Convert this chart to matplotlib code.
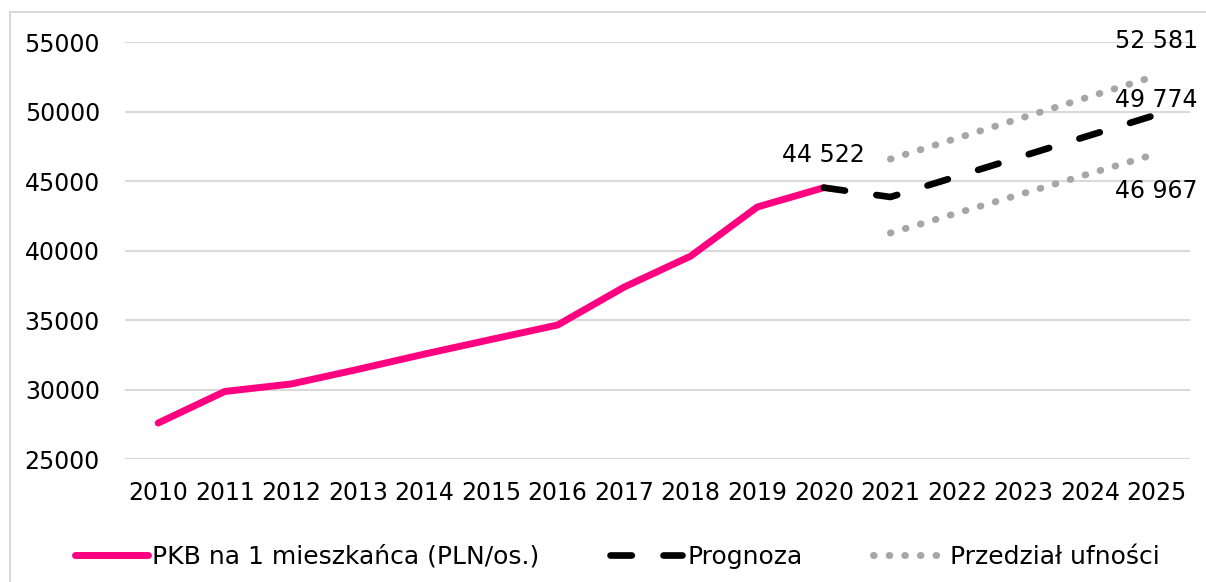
import matplotlib
matplotlib.use("Agg")
import matplotlib.pyplot as plt
from matplotlib.patches import Rectangle

plt.rcParams['font.family'] = ['DejaVu Sans']

# dane historyczne
lata = [2010, 2011, 2012, 2013, 2014, 2015, 2016, 2017, 2018, 2019, 2020]
pkb = [27590, 29860, 30400, 31450, 32550, 33600, 34640, 37370, 39600, 43130, 44522]

# prognoza i przedzial ufnosci
lata_prog = [2020, 2021, 2022, 2023, 2024, 2025]
prognoza = [44522, 43850, 45330, 46810, 48290, 49774]
lata_przedz = [2021, 2022, 2023, 2024, 2025]
gorna = [46580, 48080, 49580, 51080, 52581]
dolna = [41260, 42690, 44110, 45540, 46967]

yticks = [25000, 30000, 35000, 40000, 45000, 50000, 55000]

fs = 17
fig = plt.figure(figsize=(12.06, 5.82), dpi=100)
ax = fig.add_axes([0.1036, 0.2113, 0.8831, 0.7165])

# ramka wokol wykresu
fig.patches.append(Rectangle((10 / 1206, -0.1), 1.2, 1.1 - 12 / 582, transform=fig.transFigure,
                             fill=False, edgecolor='#d9d9d9', linewidth=1.5))

ax.plot(lata, pkb, color='#ff0080', lw=5, solid_capstyle='round',
        solid_joinstyle='round', label='PKB na 1 mieszkańca (PLN/os.)', zorder=3)
ax.plot(lata_prog, prognoza, color='black', lw=4.8, linestyle=(0, (3.2, 4.75)),
        dash_capstyle='round', label='Prognoza', zorder=3)
ax.plot(lata_przedz, gorna, color='#a6a6a6', lw=5, linestyle=(0, (0.1, 2.15)),
        dash_capstyle='round', label='Przedział ufności', zorder=2)
ax.plot(lata_przedz, dolna, color='#a6a6a6', lw=5, linestyle=(0, (0.1, 2.15)),
        dash_capstyle='round', zorder=2)

def fmt(v):
    return f"{v:,}".replace(",", " ")

ax.annotate(fmt(pkb[-1]), (lata[-1], pkb[-1]), xytext=(0, 33), textcoords='offset pixels',
            ha='center', va='center', fontsize=fs)
ax.annotate(fmt(gorna[-1]), (lata_przedz[-1], gorna[-1]), xytext=(0, 35), textcoords='offset pixels',
            ha='center', va='center', fontsize=fs)
ax.annotate(fmt(prognoza[-1]), (lata_prog[-1], prognoza[-1]), xytext=(0, 15), textcoords='offset pixels',
            ha='center', va='center', fontsize=fs)
ax.annotate(fmt(dolna[-1]), (lata_przedz[-1], dolna[-1]), xytext=(0, -37), textcoords='offset pixels',
            ha='center', va='center', fontsize=fs)

ax.set_xlim(2009.5, 2025.5)
ax.set_ylim(25000, 55000)
ax.set_yticks(yticks)
ax.set_xticks(lata + lata_prog[1:])
ax.tick_params(axis='both', length=0, labelsize=fs)
ax.tick_params(axis='y', pad=18)
ax.tick_params(axis='x', pad=16)
ax.grid(axis='y', color='#d9d9d9', lw=1.5)
ax.set_axisbelow(True)
for s in ax.spines.values():
    s.set_visible(False)

fig.legend(loc='center left', bbox_to_anchor=(75 / 1206, 0.043), ncol=3, frameon=False,
           fontsize=18, handlelength=2.9, handletextpad=0.2, columnspacing=2.8,
           borderpad=0, borderaxespad=0)

fig.savefig('out.png', dpi=100)
